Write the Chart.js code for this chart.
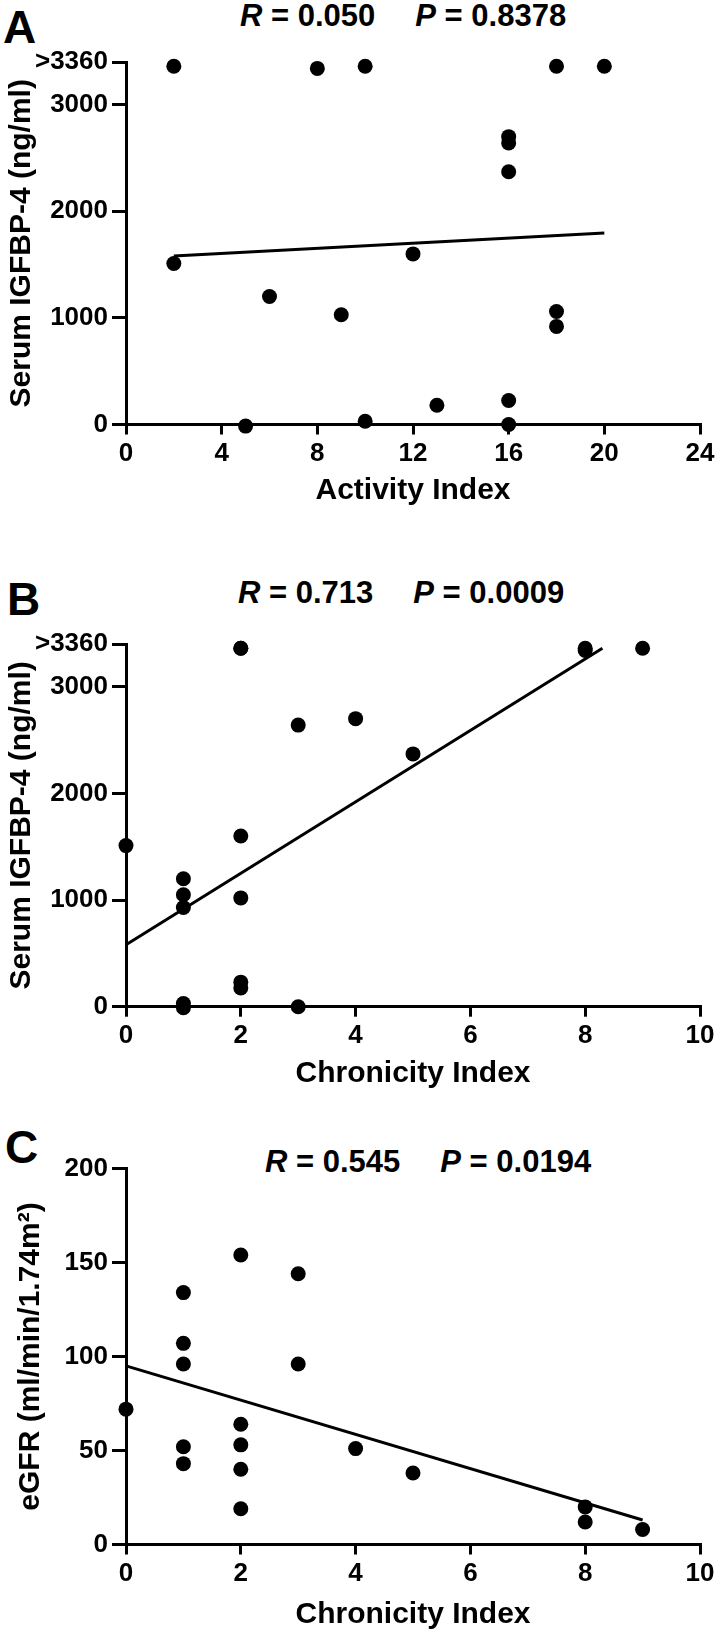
<!DOCTYPE html>
<html>
<head>
<meta charset="utf-8">
<title>IGFBP-4 and eGFR correlations</title>
<script src="https://cdn.jsdelivr.net/npm/chart.js@4.4.1/dist/chart.umd.min.js"></script>
<style>
  html, body { margin: 0; padding: 0; background: #fff; }
  #page { position: relative; width: 722px; height: 1636px; overflow: hidden;
          font-family: "Liberation Sans", Arial, sans-serif; color: #000; }
  #page canvas { position: absolute; left: 0; }
  .tag { position: absolute; font-weight: bold; font-size: 46px; line-height: 46px; }
  .stat { position: absolute; font-weight: bold; font-size: 31px; line-height: 31px; white-space: nowrap; }
  .stat .gap { display: inline-block; width: 40px; }
</style>
</head>
<body>
<div id="page">
  <div class="tag" style="left:3px; top:4px">A</div>
  <div class="stat" style="left:240px; top:0px"><i>R</i> = 0.050<span class="gap"></span><i>P</i> = 0.8378</div>
  <canvas id="chartA" width="722" height="520" style="top:0px"></canvas>

  <div class="tag" style="left:7px; top:576px">B</div>
  <div class="stat" style="left:238px; top:577px"><i>R</i> = 0.713<span class="gap"></span><i>P</i> = 0.0009</div>
  <canvas id="chartB" width="722" height="580" style="top:520px"></canvas>

  <div class="tag" style="left:5px; top:1124px">C</div>
  <div class="stat" style="left:265px; top:1146px"><i>R</i> = 0.545<span class="gap"></span><i>P</i> = 0.0194</div>
  <canvas id="chartC" width="722" height="536" style="top:1100px"></canvas>
</div>

<script>
// ---- data ----

// Panel A: activity index vs serum IGFBP-4
const activityIndex = [2, 8, 10, 18, 20, 16, 16, 16, 2, 12, 6, 9, 18, 18, 13, 16, 5, 10, 16];
const igfbpVsActivity = [3360, 3340, 3360, 3360, 3360, 2700, 2640, 2370, 1510, 1600, 1200, 1030, 1060, 920, 180, 225, -15, 30, 0];
const fitA = [{ x: 2, y: 1580 }, { x: 20, y: 1797 }];

// Panel B: chronicity index vs serum IGFBP-4
const chronicityB = [2, 2, 8, 8, 9, 3, 4, 5, 2, 0, 1, 1, 1, 2, 2, 2, 1, 1, 3];
const igfbpVsChronicity = [3360, 3360, 3360, 3340, 3360, 2640, 2700, 2370, 1600, 1510, 1200, 1050, 930, 1020, 230, 175, 30, -10, 0];
const fitB = [{ x: 0, y: 580 }, { x: 8.3, y: 3360 }];

// Panel C: chronicity index vs eGFR
const chronicityC = [2, 3, 1, 1, 1, 3, 0, 2, 2, 1, 4, 1, 2, 5, 2, 8, 8, 9];
const egfr = [154, 144, 134, 107, 96, 96, 72, 64, 53, 52, 51, 43, 40, 38, 19, 20, 12, 8];
const fitC = [{ x: 0, y: 95 }, { x: 9, y: 13 }];

// ticks
const igfbpTicks = [0, 1000, 2000, 3000, 3400];
const igfbpTickLabels = ["0", "1000", "2000", "3000", ">3360"];
const egfrTicks = [0, 50, 100, 150, 200];
const egfrTickLabels = ["0", "50", "100", "150", "200"];
const activityTicks = [0, 4, 8, 12, 16, 20, 24];
const chronicityTicks = [0, 2, 4, 6, 8, 10];

Chart.defaults.font.family = "'Liberation Sans', Arial, sans-serif";
Chart.defaults.color = "#000";

function toPoints(xs, ys) {
  return xs.map((x, i) => ({ x: x, y: ys[i] }));
}

function axis(opts) {
  const isY = opts.pos === "left";
  return {
    type: "linear",
    position: opts.pos,
    min: opts.ticks[0],
    max: opts.ticks[opts.ticks.length - 1],
    afterBuildTicks: (s) => { s.ticks = opts.ticks.map((v) => ({ value: v })); },
    afterFit: (s) => { if (isY) s.width = opts.size; else s.height = opts.size; },
    ticks: {
      autoSkip: false,
      maxRotation: 0,
      padding: 4,
      font: { size: 26, weight: "bold" },
      callback: (v, i) => opts.labels[i],
    },
    grid: { drawOnChartArea: false, drawTicks: true, tickLength: isY ? 14 : 10, lineWidth: 3, color: "#000" },
    border: { display: true, color: "#000", width: 3 },
    title: {
      display: true,
      text: opts.title,
      font: { size: 30, weight: "bold" },
      padding: opts.titlePad,
    },
  };
}

function makePanel(id, cfg) {
  new Chart(document.getElementById(id), {
    type: "scatter",
    data: {
      datasets: [
        {
          data: cfg.points,
          pointRadius: 7.5,
          pointHoverRadius: 7.5,
          pointBackgroundColor: "#000",
          pointBorderWidth: 0,
          clip: false,
        },
        {
          data: cfg.fit,
          showLine: true,
          borderColor: "#000",
          borderWidth: 3,
          pointRadius: 0,
          clip: false,
        },
      ],
    },
    options: {
      responsive: false,
      animation: false,
      layout: { padding: { left: 0, right: 22, top: cfg.padTop, bottom: 0 } },
      plugins: { legend: { display: false }, tooltip: { enabled: false } },
      scales: { x: cfg.x, y: cfg.y },
    },
  });
}

makePanel("chartA", {
  points: toPoints(activityIndex, igfbpVsActivity),
  fit: fitA,
  padTop: 62,
  x: axis({ pos: "bottom", ticks: activityTicks, labels: activityTicks.map(String), size: 95.5,
            title: "Activity Index", titlePad: { bottom: 11 } }),
  y: axis({ pos: "left", ticks: igfbpTicks, labels: igfbpTickLabels, size: 126,
            title: "Serum IGFBP-4 (ng/ml)", titlePad: { top: 4 } }),
});

makePanel("chartB", {
  points: toPoints(chronicityB, igfbpVsChronicity),
  fit: fitB,
  padTop: 124,
  x: axis({ pos: "bottom", ticks: chronicityTicks, labels: chronicityTicks.map(String), size: 93.3,
            title: "Chronicity Index", titlePad: { bottom: 8 } }),
  y: axis({ pos: "left", ticks: igfbpTicks, labels: igfbpTickLabels, size: 126,
            title: "Serum IGFBP-4 (ng/ml)", titlePad: { top: 4 } }),
});

makePanel("chartC", {
  points: toPoints(chronicityC, egfr),
  fit: fitC,
  padTop: 68.5,
  x: axis({ pos: "bottom", ticks: chronicityTicks, labels: chronicityTicks.map(String), size: 91.5,
            title: "Chronicity Index", titlePad: { bottom: 3 } }),
  y: axis({ pos: "left", ticks: egfrTicks, labels: egfrTickLabels, size: 126,
            title: "eGFR (ml/min/1.74m\u00B2)", titlePad: { top: 13 } }),
});
</script>
</body>
</html>
